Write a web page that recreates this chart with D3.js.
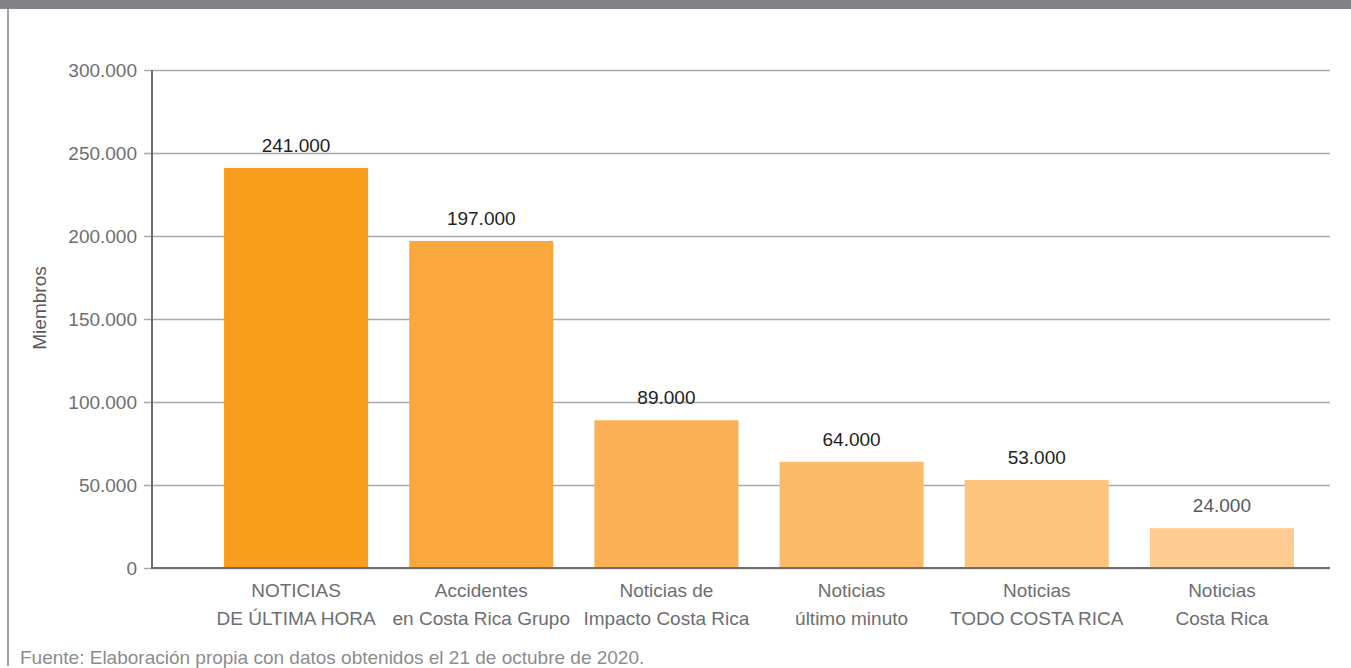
<!DOCTYPE html>
<html>
<head>
<meta charset="utf-8">
<script src="https://cdn.jsdelivr.net/npm/d3@7"></script>
<style>
  html, body { margin: 0; padding: 0; background: #fff; }
  svg { display: block; font-family: "Liberation Sans", Arial, Helvetica, sans-serif; }
</style>
</head>
<body>
<svg id="chart" width="1351" height="668"></svg>
<script>
// ---- Data ----
const categories = [
  ["NOTICIAS", "DE ÚLTIMA HORA"],
  ["Accidentes", "en Costa Rica Grupo"],
  ["Noticias de", "Impacto Costa Rica"],
  ["Noticias", "último minuto"],
  ["Noticias", "TODO COSTA RICA"],
  ["Noticias", "Costa Rica"]
];
const members = [241000, 197000, 89000, 64000, 53000, 24000];
const yTicks = [0, 50000, 100000, 150000, 200000, 250000, 300000];
const barColors = ["#F99D1C", "#FAA73E", "#FBB055", "#FDBB6A", "#FDC47E", "#FECC90"];
const yTitle = "Miembros";
const footer = "Fuente: Elaboración propia con datos obtenidos el 21 de octubre de 2020.";

const locale = d3.formatLocale({ decimal: ",", thousands: ".", grouping: [3], currency: ["", ""] });
const fmt = locale.format(",d");

const svg = d3.select("#chart");
const W = 1351, H = 668;
const FS = 19;

// frame: top band and left border
svg.append("rect").attr("x", 0).attr("y", 0).attr("width", W).attr("height", 9).attr("fill", "#808285");
svg.append("line").attr("x1", 8).attr("x2", 8).attr("y1", 9).attr("y2", 666)
  .attr("stroke", "#808285").attr("stroke-width", 1.5);

const axisLeft = 151, axisRight = 1330, yTop = 70, yBottom = 568;
const idx = d3.range(categories.length);

const x = d3.scaleBand().domain(idx).range([203.5, 1314.5]).paddingInner(0.222).paddingOuter(0.111);
const y = d3.scaleLinear().domain([0, 300000]).range([yBottom, yTop]);

// y axis with gridlines
const yAxis = d3.axisLeft(y).tickValues(yTicks).tickFormat(d => d === 0 ? "0" : fmt(d))
  .tickSizeInner(-(axisRight - axisLeft)).tickSizeOuter(0).tickPadding(14);
const gy = svg.append("g").attr("transform", `translate(${axisLeft},0)`).call(yAxis);
gy.select(".domain").remove();
gy.selectAll(".tick line").attr("stroke", "#a7a9ac").attr("stroke-width", 1.5).attr("x1", -7);
gy.selectAll(".tick text").attr("fill", "#6d6e71").attr("font-size", FS)
  .attr("font-family", "'Liberation Sans', Arial, sans-serif");

// bars
svg.append("g").selectAll("rect").data(members).join("rect")
  .attr("x", (d, i) => x(i))
  .attr("width", x.bandwidth())
  .attr("y", d => y(d))
  .attr("height", d => yBottom - y(d))
  .attr("fill", (d, i) => barColors[i]);

// value labels
svg.append("g").selectAll("text").data(members).join("text")
  .attr("x", (d, i) => x(i) + x.bandwidth() / 2)
  .attr("y", d => y(d) - 16)
  .attr("text-anchor", "middle")
  .attr("font-size", FS)
  .attr("fill", (d, i) => i === members.length - 1 ? "#58595b" : "#231f20")
  .text(d => fmt(d));

// axis lines
svg.append("line").attr("x1", axisLeft + 1).attr("x2", axisLeft + 1).attr("y1", yTop).attr("y2", yBottom)
  .attr("stroke", "#6d6e71").attr("stroke-width", 2);
svg.append("line").attr("x1", axisLeft).attr("x2", axisRight).attr("y1", yBottom).attr("y2", yBottom)
  .attr("stroke", "#6d6e71").attr("stroke-width", 2);

// category labels
const cat = svg.append("g").selectAll("text").data(categories).join("text")
  .attr("text-anchor", "middle")
  .attr("font-size", FS)
  .attr("fill", "#6d6e71");
cat.selectAll("tspan").data((d, i) => d.map(s => ({ s, i }))).join("tspan")
  .attr("x", d => x(d.i) + x.bandwidth() / 2)
  .attr("y", (d, j) => 597 + j * 28)
  .text(d => d.s);

// y title
svg.append("text")
  .attr("transform", `translate(46,308) rotate(-90)`)
  .attr("text-anchor", "middle")
  .attr("font-size", FS)
  .attr("fill", "#58595b")
  .text(yTitle);

// footer
svg.append("text").attr("x", 20).attr("y", 664)
  .attr("font-size", FS).attr("fill", "#8a8c8e")
  .text(footer);
</script>
</body>
</html>
